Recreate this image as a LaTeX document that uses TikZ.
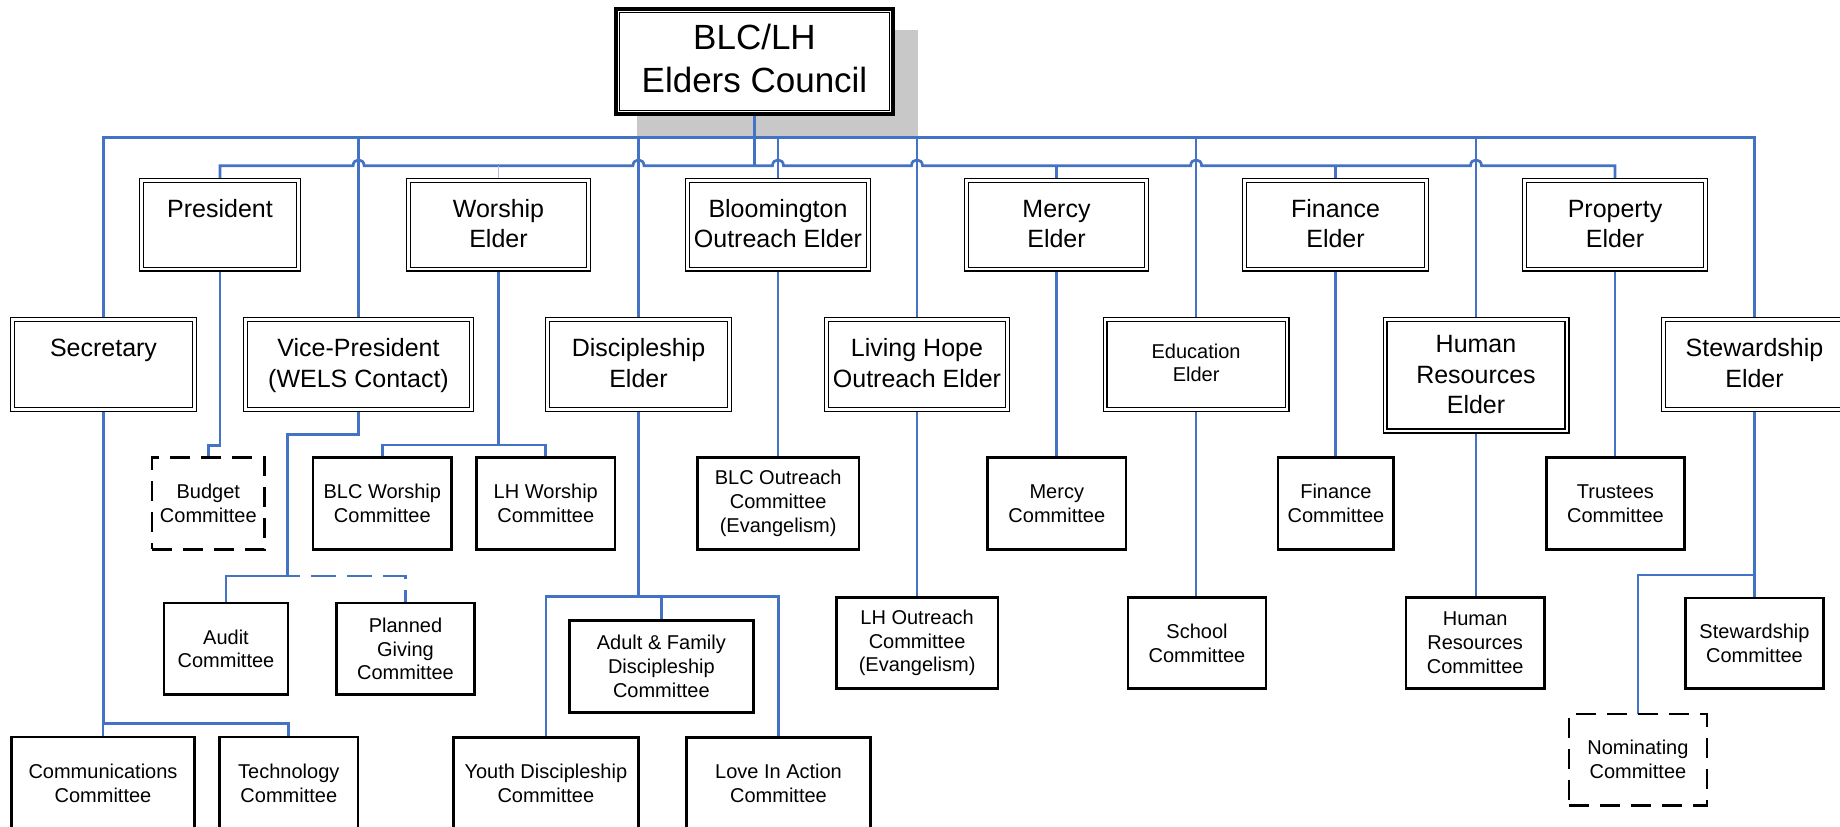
\documentclass[tikz,border=0pt]{standalone}
\usepackage{fontspec}
\setmainfont{Liberation Sans}
\usetikzlibrary{backgrounds,calc}
\definecolor{linkblue}{RGB}{68,114,196}
\definecolor{shadowgray}{RGB}{200,200,200}
\colorlet{lightlink}{linkblue!45}
\newcommand\elderfont{\fontsize{25}{30.5}\selectfont}
\newcommand\commfont{\fontsize{20}{23.8}\selectfont}
\newcommand\topfont{\fontsize{35}{42.5}\selectfont}
\newcommand\elderN[7]{\node[elderbox] (#1) at ({(#2+#4)/2},{(#3+#5)/2}) {\parbox[c][\dimexpr #5pt-#3pt-5.2pt\relax][t]{\dimexpr #4pt-#2pt-5.2pt\relax}{\centering\elderfont\rule{0pt}{\dimexpr #6pt-2.6pt\relax}#7\par}};}
\newcommand\commN[7]{\node[#1, minimum width={#5-#3-2.6}, minimum height={#6-#4-2.6}] (#2) at ({(#3+#5)/2},{(#4+#6)/2}) {#7};}
\tikzset{
  elderbox/.style={draw=black, double, double distance=2.6pt, line width=1.3pt, fill=white, inner sep=0pt, outer sep=0pt},
  commbox/.style={draw=black, line width=2.6pt, fill=white, inner sep=1pt, outer sep=0pt, align=center, font=\commfont},
  dcommbox/.style={commbox, dash pattern=on 20pt off 11pt},
  topbox/.style={draw=black, line width=3.6pt, fill=white, inner sep=0pt, outer sep=0pt, align=center, font=\topfont, text depth=6pt},
  link/.style={draw=linkblue, line width=2.7pt},
  lightline/.style={draw=lightlink, line width=1.6pt},
  dlink/.style={link, dash pattern=on 25pt off 11pt, dash phase=12pt}
}
\begin{document}
\begin{tikzpicture}[x=1pt,y=-1pt]
\useasboundingbox (0,0) rectangle (1840,827);
% top box
\node[topbox, minimum width=277, minimum height=105] (top) at (754.5,61.5) {BLC/LH\\Elders Council};
\draw[line width=1.2pt] ($(top.north west)+(3.5,3.5)$) rectangle ($(top.south east)+(-3.5,-3.5)$);
% elders
\elderN{pres}{139}{177.7}{301}{271.7}{39.5}{President}
\elderN{worship}{406}{177.7}{591}{271.7}{39.5}{Worship\\Elder}
\elderN{bloom}{685}{177.7}{871}{271.7}{39.5}{Bloomington\\Outreach Elder}
\elderN{mercy}{964}{177.7}{1149}{271.7}{39.5}{Mercy\\Elder}
\elderN{finance}{1242}{177.7}{1429}{271.7}{39.5}{Finance\\Elder}
\elderN{property}{1522}{177.7}{1708}{271.7}{39.5}{Property\\Elder}
\elderN{secretary}{10}{317}{197}{412}{39.5}{Secretary}
\elderN{vp}{243}{317}{474}{412}{39.5}{Vice-President\\(WELS Contact)}
\elderN{disc}{545}{317}{732}{412}{39.5}{Discipleship\\Elder}
\elderN{living}{824}{317}{1010}{412}{39.5}{Living Hope\\Outreach Elder}
\elderN{education}{1102.5}{317}{1289.7}{412}{41}{\commfont Education\\Elder}
\elderN{hr}{1382.5}{317}{1569.5}{433.5}{35.5}{Human\\Resources\\Elder}
\elderN{steward}{1660.6}{317}{1848.4}{412}{39.5}{Stewardship\\Elder}
% committees
\commN{dcommbox}{budget}{150.8}{456}{265.8}{550.7}{Budget\\Committee}
\commN{commbox}{blcw}{311.6}{456}{453}{550.7}{BLC Worship\\Committee}
\commN{commbox}{lhw}{475.4}{456}{616.2}{550.7}{LH Worship\\Committee}
\commN{commbox}{blco}{696}{456}{860.3}{550.7}{BLC Outreach\\Committee\\(Evangelism)}
\commN{commbox}{mercyc}{986.3}{456}{1127.3}{550.7}{Mercy\\Committee}
\commN{commbox}{financec}{1276.8}{456}{1395}{550.7}{Finance\\Committee}
\commN{commbox}{trustees}{1545}{456}{1685.8}{550.7}{Trustees\\Committee}
\commN{commbox}{audit}{162.7}{601.7}{289.3}{696}{Audit\\Committee}
\commN{commbox}{pg}{335}{601.7}{476}{696}{Planned\\Giving\\Committee}
\commN{commbox}{adult}{568}{619}{754.7}{714}{Adult \& Family\\Discipleship\\Committee}
\commN{commbox}{lho}{835}{596}{999.2}{690}{LH Outreach\\Committee\\(Evangelism)}
\commN{commbox}{school}{1126.6}{596}{1267.4}{690}{School\\Committee}
\commN{commbox}{hrc}{1404.7}{596}{1545.6}{690}{Human\\Resources\\Committee}
\commN{commbox}{stc}{1684}{596.7}{1825}{690}{Stewardship\\Committee}
\commN{commbox}{comm}{10}{735.7}{196}{831}{Communications\\Committee}
\commN{commbox}{tech}{218.3}{735.7}{359.3}{831}{Technology\\Committee}
\commN{commbox}{youth}{452}{736}{639.7}{831}{Youth Discipleship\\Committee}
\commN{commbox}{love}{685}{736}{872}{831}{Love In Action\\Committee}
\commN{dcommbox}{nom}{1567.5}{712.5}{1708.3}{806.7}{Nominating\\Committee}
% bus levels
\coordinate (ub) at (0,137.7);
\coordinate (lb) at (0,165.7);
\coordinate (secj) at (0,723.3);
\coordinate (presj) at (0,445.7);
\coordinate (vpj) at (287.3,576);
\coordinate (vpk) at (0,434.3);
\coordinate (wj) at (0,445);
\coordinate (dj) at (0,596.7);
\coordinate (sj) at (0,575);
\begin{scope}[on background layer]
\fill[shadowgray] (637,30) rectangle (918,137);
% upper bus
\draw[link] (secretary.north) |- (ub -| steward.north) -- (steward.north);
\foreach \n in {vp,disc,living,education,hr}{\draw[link] (ub -| \n.north) -- (\n.north);}
\draw[link] (ub -| bloom.north) -- (bloom.north);
% stem of top box
\draw[link, line width=3.2pt] (top.south) -- (top.south |- lb);
% lower bus with hops
\draw[link] (pres.north) -- (pres.north |- lb)
  -- (353.1,165.7) .. controls (353.1,158) and (364.1,158) .. (364.1,165.7)
  -- (633,165.7) .. controls (633,158) and (644,158) .. (644,165.7)
  -- (772.5,165.7) .. controls (772.5,158) and (783.5,158) .. (783.5,165.7)
  -- (911.5,165.7) .. controls (911.5,158) and (922.5,158) .. (922.5,165.7)
  -- (1190.6,165.7) .. controls (1190.6,158) and (1201.6,158) .. (1201.6,165.7)
  -- (1470.5,165.7) .. controls (1470.5,158) and (1481.5,158) .. (1481.5,165.7)
  -- (property.north |- lb) -- (property.north);
\draw[lightline] (worship.north |- lb) -- (worship.north);
\draw[link] (mercy.north |- lb) -- (mercy.north);
\draw[link] (finance.north |- lb) -- (finance.north);
% committees links
\draw[link] (secretary.south) -- (secretary.south |- secj);
\draw[link] (comm.north) -- (comm.north |- secj) -| (tech.north);
\draw[link] (pres.south) |- (budget.north |- presj) -- (budget.north);
\draw[link] (vp.south) |- (vpj |- vpk) -- (vpj) -| (audit.north);
\draw[dlink] (vpj) -| (pg.north);
\draw[link] (worship.south) -- (worship.south |- wj);
\draw[link] (blcw.north) -- (blcw.north |- wj) -- (lhw.north |- wj) -- (lhw.north);
\draw[link] (bloom.south) -- (bloom.south |- blco.north);
\draw[link] (disc.south) -- (disc.south |- dj);
\draw[link] (youth.north) -- (youth.north |- dj) -- (love.north |- dj) -- (love.north);
\draw[link] (adult.north) -- (adult.north |- dj);
\draw[link] (living.south) -- (living.south |- lho.north);
\draw[link] (mercy.south) -- (mercy.south |- mercyc.north);
\draw[link] (education.south) -- (education.south |- school.north);
\draw[link] (finance.south) -- (finance.south |- financec.north);
\draw[link] (hr.south) -- (hr.south |- hrc.north);
\draw[link] (property.south) -- (property.south |- trustees.north);
\draw[link] (steward.south) -- (steward.south |- stc.north);
\draw[link] (stc.north |- sj) -| (nom.north);
\end{scope}
\end{tikzpicture}
\end{document}
